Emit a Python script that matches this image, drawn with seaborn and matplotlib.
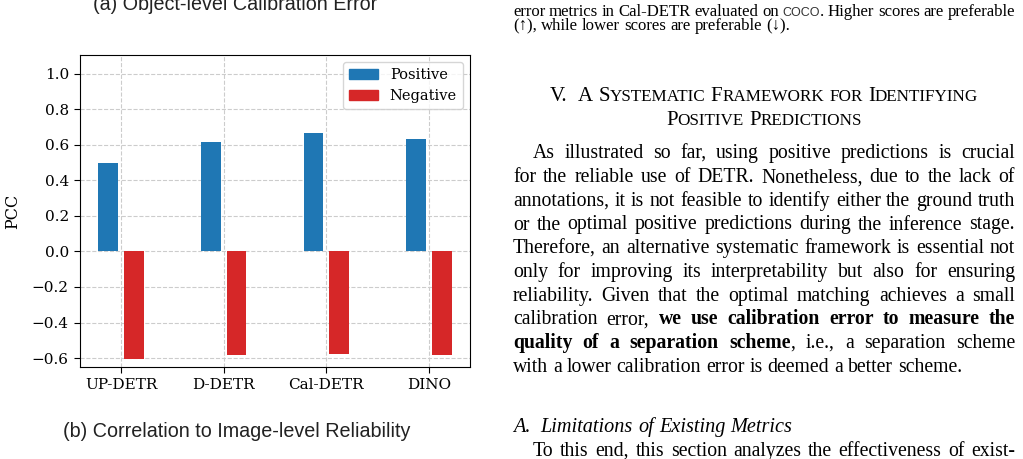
import matplotlib
matplotlib.use('Agg')
import matplotlib.pyplot as plt
import seaborn as sns
import pandas as pd
from matplotlib.patches import Patch
from matplotlib.transforms import IdentityTransform

# chart data
models = ['UP-DETR', 'D-DETR', 'Cal-DETR', 'DINO']
positive = [0.50, 0.615, 0.666, 0.632]
negative = [-0.605, -0.585, -0.575, -0.585]
kinds = ['Positive', 'Negative']
colors = ['#1f77b4', '#d62728']

# page text around the chart
caption_lines = [
    [("error metrics in Cal-DETR evaluated on ", 'c'), ("COCO", 'cs'), (". Higher scores are preferable", 'c')],
    [("(↑), while lower scores are preferable (↓).", 'c')],
]
heading_lines = ["V.~A Systematic Framework for Identifying", "Positive Predictions"]
body_lines = [
    [("As illustrated so far, using positive predictions is crucial", 'r')],
    [("for the reliable use of DETR. Nonetheless, due to the lack of", 'r')],
    [("annotations, it is not feasible to identify either the ground truth", 'r')],
    [("or the optimal positive predictions during the inference stage.", 'r')],
    [("Therefore, an alternative systematic framework is essential not", 'r')],
    [("only for improving its interpretability but also for ensuring", 'r')],
    [("reliability. Given that the optimal matching achieves a small", 'r')],
    [("calibration error, ", 'r'), ("we use calibration error to measure the", 'b')],
    [("quality of a separation scheme", 'b'), (", i.e., a separation scheme", 'r')],
    [("with a lower calibration error is deemed a better scheme.", 'r')],
]
subsection = [("A.~Limitations of Existing Metrics", 'i')]
next_line = [("To this end, this section analyzes the effectiveness of exist-", 'r')]

W, H = 1023, 459
fig = plt.figure(figsize=(W / 100, H / 100), dpi=100)
plt.rcParams['font.family'] = 'DejaVu Serif'

ax = fig.add_axes([80 / W, 1 - 367 / H, 390 / W, 312 / H])
df = pd.DataFrame({'model': models * 2,
                   'pcc': positive + negative,
                   'kind': [kinds[0]] * 4 + [kinds[1]] * 4})
sns.barplot(data=df, x='model', y='pcc', hue='kind', hue_order=kinds,
            palette=colors, saturation=1, width=0.5, gap=0.24,
            errorbar=None, legend=False, ax=ax)
ax.set_xlim(-0.4, 3.4)
ax.set_ylim(-0.65, 1.105)
ax.set_yticks([-0.6, -0.4, -0.2, 0.0, 0.2, 0.4, 0.6, 0.8, 1.0])
ax.set_axisbelow(True)
ax.grid(True, linestyle='--', color='#cccccc', linewidth=0.8)
ax.tick_params(labelsize=11, length=4.5, color='black')
ax.set_xlabel('')
ax.set_ylabel('PCC', fontsize=11.5)
ax.yaxis.set_label_coords(-0.152, 0.5)
for s in ax.spines.values():
    s.set_color('black')
ax.legend(handles=[Patch(color=c, label=k) for k, c in zip(kinds, colors)],
          loc='upper right', fontsize=10.5)

PX = IdentityTransform()
sans = ['Liberation Sans', 'DejaVu Sans']
serif = ['Liberation Serif', 'DejaVu Serif']
fig.text(235, H - 9.5, '(a) Object-level Calibration Error', transform=PX,
         ha='center', va='baseline', fontsize=14.2, family=sans, color='#222222')
fig.text(237, H - 437, '(b) Correlation to Image-level Reliability', transform=PX,
         ha='center', va='baseline', fontsize=14.2, family=sans, color='#222222')

STYLES = {
    'r': dict(fontsize=14.2, family=serif),
    'b': dict(fontsize=14.2, family=serif, weight='bold'),
    'i': dict(fontsize=14.6, family=serif, style='italic'),
    'c': dict(fontsize=12.1, family=serif),
    'cs': dict(fontsize=9, family=sans, color='#333333'),
    'hb': dict(fontsize=15, family=serif),
    'hs': dict(fontsize=12.3, family=serif),
}
renderer = fig.canvas.get_renderer()


def to_words(runs):
    # '~' stands for a double space
    words = [[]]
    for text, style in runs:
        for i, part in enumerate(text.replace('~', ' ~ ').split(' ')):
            if i > 0:
                words.append([])
            if part:
                words[-1].append((part, style))
    return [w for w in words if w]


def put_line(runs, x0, x1, base, justify=True, center=False):
    words = to_words(runs)
    placed, widths = [], []
    for w in words:
        arts = []
        for text, style in w:
            if text == '~':
                arts.append((None, 0))
                continue
            kw = dict(color='black')
            kw.update(STYLES[style])
            t = fig.text(0, 0, text, transform=PX, ha='left', va='baseline', **kw)
            arts.append((t, t.get_window_extent(renderer).width))
        placed.append(arts)
        widths.append(sum(a[1] for a in arts))
    space = STYLES[words[0][0][1]]['fontsize'] * 100 / 72 * 0.25
    if justify and len(words) > 1:
        gap = (x1 - x0 - sum(widths)) / (len(words) - 1)
    else:
        gap = space
    x = x0
    if center:
        x = (x0 + x1) / 2 - (sum(widths) + gap * (len(words) - 1)) / 2
    for arts in placed:
        for t, w in arts:
            if t is not None:
                t.set_position((x, H - base))
            x += w
        x += gap


def smallcaps(line):
    runs = []
    for ch in line:
        st, c = ('hs', ch.upper()) if ch.islower() else ('hb', ch)
        if runs and runs[-1][1] == st:
            runs[-1] = (runs[-1][0] + c, st)
        else:
            runs.append((c, st))
    return runs


L, R = 513, 1015
put_line(caption_lines[0], L, R, 15.5)
put_line(caption_lines[1], L, R, 30.5, justify=False)
put_line(smallcaps(heading_lines[0]), L, R, 100.7, justify=False, center=True)
put_line(smallcaps(heading_lines[1]), L, R, 125, justify=False, center=True)
for k, runs in enumerate(body_lines):
    x0 = L + 20 if k == 0 else L
    put_line(runs, x0, R, 158.4 + k * 23.7, justify=(k < len(body_lines) - 1))
put_line(subsection, L, R, 431.7, justify=False)
put_line(next_line, L + 20, R, 456)

fig.savefig('out.png', dpi=100)
